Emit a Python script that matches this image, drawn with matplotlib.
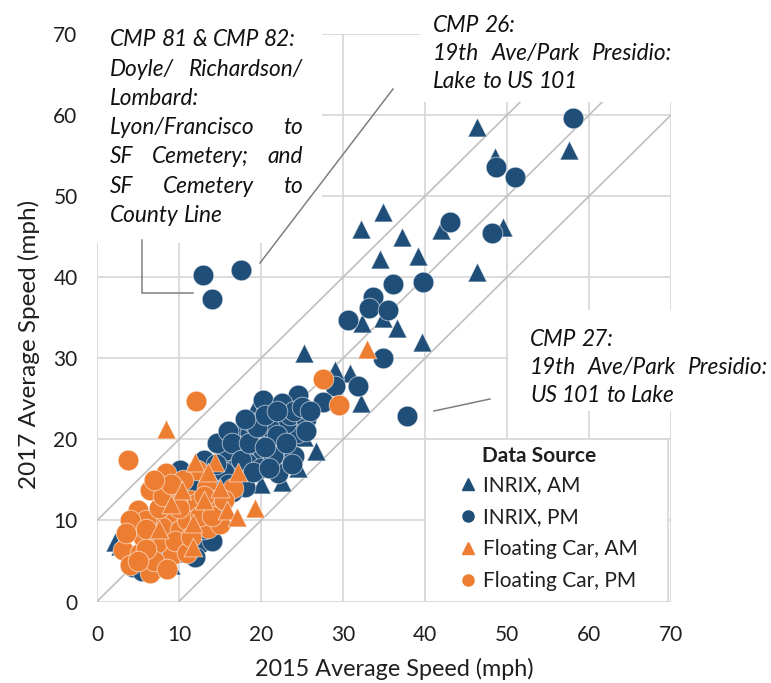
import matplotlib
matplotlib.use("Agg")
import matplotlib.pyplot as plt
from matplotlib.patches import Rectangle
from matplotlib.lines import Line2D

plt.rcParams['font.family'] = ['Lato', 'DejaVu Sans']

# 2015 vs 2017 average speed (mph)
inrix_am_2015 = [46.3, 48.5, 57.6, 49.5, 42.0, 32.2, 34.9, 37.2, 34.5, 39.1, 46.3, 32.3,
                 34.9, 36.6, 39.6, 25.3, 30.9, 32.2, 26.7, 25.2, 21.5, 22.6, 2.2, 4.0,
                 19.0, 17.5, 23.5, 20.5, 18.0, 16.0, 14.0, 12.5, 10.5, 8.5, 6.5, 9.0,
                 13.5, 20.0, 24.5, 11.0, 29.0, 2.8, 15.0, 22.0]
inrix_am_2017 = [58.5, 54.8, 55.7, 46.2, 45.8, 46.0, 48.0, 45.0, 42.2, 42.6, 40.6, 34.3,
                 35.0, 33.7, 32.0, 30.7, 28.2, 24.5, 18.6, 20.3, 24.0, 14.8, 7.4, 5.0,
                 23.5, 21.5, 21.5, 20.5, 18.5, 17.5, 15.5, 13.0, 11.5, 9.5, 7.5, 4.5,
                 10.5, 14.5, 16.5, 6.0, 28.5, 6.8, 12.5, 17.0]

inrix_pm_2015 = [12.9, 14.0, 17.6, 58.0, 48.7, 51.0, 48.2, 43.0, 39.7, 36.1, 33.7, 33.2,
                 35.5, 30.6, 34.9, 29.0, 31.8, 27.5, 37.8, 20.3, 24.5, 21.9, 24.4, 21.1,
                 19.5, 22.1, 15.2, 18.7, 20.2, 15.9, 18.3, 14.6, 18.0, 10.1, 12.6, 4.4,
                 23.0, 22.8, 17.0, 16.5, 19.0, 21.0, 23.5, 17.5, 20.0, 13.5, 12.0, 15.0,
                 9.5, 8.0, 6.0, 10.0, 14.0, 11.0, 25.5, 16.0, 13.0, 24.0, 22.5,
                 16.5, 17.5, 18.5, 19.5, 20.5, 21.5, 22.0, 23.0, 24.0, 19.0, 21.0, 15.5,
                 14.5, 18.0, 25.0, 26.0, 16.0, 14.5, 13.0, 10.5, 8.5, 5.5, 7.0, 12.0,
                 10.0, 11.5, 22.0, 20.5, 23.8, 25.5]
inrix_pm_2017 = [40.3, 37.3, 40.9, 59.6, 53.6, 52.4, 45.4, 46.8, 39.4, 39.2, 37.5, 36.2,
                 35.9, 34.7, 30.0, 26.6, 26.6, 24.6, 22.9, 24.9, 25.5, 22.4, 20.8, 19.9,
                 18.7, 15.8, 19.1, 20.8, 18.3, 18.7, 17.1, 19.5, 14.1, 16.2, 7.2, 4.3,
                 22.0, 18.5, 16.5, 13.5, 22.0, 21.5, 23.0, 19.0, 16.5, 14.5, 12.0, 11.0,
                 10.5, 8.0, 5.0, 6.5, 7.5, 9.5, 22.5, 21.0, 17.5, 18.0, 24.5,
                 19.5, 17.5, 19.5, 21.5, 23.0, 18.0, 20.5, 19.5, 23.5, 16.0, 16.5, 16.0,
                 17.0, 22.5, 24.0, 23.5, 14.5, 13.0, 9.0, 8.0, 5.5, 3.8, 4.0, 5.5,
                 13.5, 14.5, 23.5, 19.0, 17.0, 21.0]

fc_am_2015 = [32.9, 8.4, 14.4, 12.0, 17.2, 10.4, 15.9, 17.1, 19.3, 11.7, 11.7, 13.5,
              15.0, 9.0, 7.5, 13.0]
fc_am_2017 = [31.1, 21.3, 17.2, 17.2, 16.0, 13.7, 11.3, 10.4, 11.5, 6.7, 9.7, 16.0,
              14.0, 12.0, 9.0, 12.5]

fc_pm_2015 = [27.6, 29.5, 12.1, 3.8, 8.4, 6.5, 5.0, 4.9, 3.2, 5.2, 6.5, 9.1, 12.2, 11.3,
              8.9, 7.9, 10.1, 13.5, 13.4, 16.6, 7.3, 5.6, 11.0, 12.2, 14.5, 9.5, 6.0,
              15.0, 7.0, 10.5, 4.0,
              4.0, 3.5, 6.0, 7.5, 8.0, 10.0, 9.5, 12.5, 6.0, 8.5, 11.0, 5.0, 13.0, 14.0,
              15.5, 9.0, 7.0, 11.5]
fc_pm_2017 = [27.4, 24.2, 24.7, 17.4, 15.8, 13.7, 11.3, 8.8, 6.3, 6.0, 3.5, 5.7, 16.2,
              12.5, 10.9, 9.2, 8.8, 9.1, 14.1, 14.0, 7.2, 7.9, 10.0, 12.1, 12.5, 13.0,
              10.0, 9.5, 5.0, 15.0, 4.5,
              10.0, 8.5, 9.0, 11.5, 13.0, 11.5, 7.5, 10.5, 6.5, 4.0, 6.0, 5.0, 13.0, 10.5,
              12.5, 14.5, 15.0, 8.0]

series_labels = ['INRIX, AM', 'INRIX, PM', 'Floating Car, AM', 'Floating Car, PM']
ticks = [0, 10, 20, 30, 40, 50, 60, 70]
offsets = [-10, 0, 10]   # reference lines y = x + offset

BLUE = '#1F4E79'
ORANGE = '#ED7D31'
GRID = '#d9d9d9'
TXT = '#1f1f1f'

W, H = 771, 683
fig = plt.figure(figsize=(W / 100, H / 100), dpi=100)
ax = fig.add_axes([97 / W, 1 - 601.5 / H, 574 / W, 567.5 / H])


def fx(px):
    return px / W


def fy(py):
    return 1 - py / H


ax.set_xlim(0, 70)
ax.set_ylim(0, 70)
ax.set_xticks(ticks)
ax.set_yticks(ticks)
for s in ax.spines.values():
    s.set_visible(False)
ax.tick_params(length=0, labelsize=15, labelcolor=TXT)
ax.tick_params(axis='x', pad=17)
ax.tick_params(axis='y', pad=14)
ax.grid(True, color=GRID, lw=1.3, zorder=0)
ax.set_axisbelow(True)

for off in offsets:
    ax.plot([max(0, -off), min(70, 70 - off)], [max(0, off), min(70, 70 + off)],
            color='#bfbfbf', lw=1.2, zorder=1)

# white text boxes that hide part of the grid (as in the original)
for (x0, y0, x1, y1) in [(-0.5, 44.2, 27.4, 78), (39.4, 61.6, 90, 78), (50.1, 23.5, 90, 35.9)]:
    ax.add_patch(Rectangle((x0, y0), x1 - x0, y1 - y0, facecolor='white',
                           edgecolor='none', zorder=1.5, clip_on=False))
ax.add_patch(Rectangle((40, 0), 29.6, 20, facecolor='white', edgecolor=GRID,
                       lw=1.3, zorder=1.5))

edge = (1, 1, 1, 0.55)
ax.scatter(inrix_am_2015, inrix_am_2017, marker='^', s=185, color=BLUE,
           edgecolors=[edge], linewidths=0.7, zorder=3, label=series_labels[0])
ax.scatter(inrix_pm_2015, inrix_pm_2017, marker='o', s=220, color=BLUE,
           edgecolors=[edge], linewidths=0.7, zorder=4, label=series_labels[1])
ax.scatter(fc_pm_2015, fc_pm_2017, marker='o', s=220, color=ORANGE,
           edgecolors=[edge], linewidths=0.7, zorder=5, label=series_labels[3])
ax.scatter(fc_am_2015, fc_am_2017, marker='^', s=185, color=ORANGE,
           edgecolors=[edge], linewidths=0.7, zorder=6, label=series_labels[2])

ax.set_xlabel('2015 Average Speed (mph)', fontsize=16.8, color=TXT)
ax.set_ylabel('2017 Average Speed (mph)', fontsize=17.5, color=TXT)
ax.xaxis.set_label_coords((394 - 97) / 574, (601.5 - 658) / 567.5)
ax.yaxis.set_label_coords((40 - 97) / 574, (601.5 - 344) / 567.5)

handles = [Line2D([], [], ls='none', marker='^', color=BLUE, markersize=8),
           Line2D([], [], ls='none', marker='o', color=BLUE, markersize=8),
           Line2D([], [], ls='none', marker='^', color=ORANGE, markersize=8),
           Line2D([], [], ls='none', marker='o', color=ORANGE, markersize=8)]
leg = ax.legend(handles, series_labels, loc='upper left',
                bbox_to_anchor=((460 - 97) / 574, (601.5 - 475) / 567.5),
                frameon=False, fontsize=15, handlelength=0.8, handletextpad=0.3,
                labelspacing=0.58, borderpad=0, borderaxespad=0)
for t in leg.get_texts():
    t.set_color(TXT)
leg.set_zorder(7)
fig.text(fx(482), fy(456), 'Data Source', fontsize=15, fontweight='bold',
         color=TXT, va='center', ha='left')

# annotations with justified lines
renderer = fig.canvas.get_renderer()


def put_line(words, x0, x1, yc, justify):
    ts = [fig.text(0, fy(yc), w, fontsize=16.3, fontstyle='italic', color='#111111',
                   va='center', ha='left', zorder=8) for w in words]
    widths = [t.get_window_extent(renderer).width for t in ts]
    if justify and len(ts) > 1:
        gap = (x1 - x0 - sum(widths)) / (len(ts) - 1)
    else:
        gap = 5.0
    x = x0
    for t, wd in zip(ts, widths):
        t.set_x(fx(x))
        x += wd + gap


box1 = [('CMP 81 & CMP 82:', False), ('Doyle/ Richardson/', True), ('Lombard:', False),
        ('Lyon/Francisco to', True), ('SF Cemetery; and', True), ('SF Cemetery to', True),
        ('County Line', False)]
for i, (line, just) in enumerate(box1):
    put_line(line.split(' '), 110, 303, 40 + 29.2 * i, just)

box2 = [('CMP 26:', False), ('19th Ave/Park Presidio:', True), ('Lake to US 101', False)]
for i, (line, just) in enumerate(box2):
    put_line(line.split(' '), 433, 672, 25 + 28.5 * i, just)

box3 = [('CMP 27:', False), ('19th Ave/Park Presidio:', True), ('US 101 to Lake', False)]
for i, (line, just) in enumerate(box3):
    put_line(line.split(' '), 530, 768, 339 + 28.5 * i, just)

# leader lines
lead = dict(color='#7f7f7f', lw=1.1, transform=fig.transFigure, zorder=8)
fig.add_artist(Line2D([fx(142), fx(142), fx(193)], [fy(240), fy(293), fy(293)], **lead))
fig.add_artist(Line2D([fx(260), fx(393)], [fy(263), fy(89)], **lead))
fig.add_artist(Line2D([fx(434), fx(490)], [fy(411), fy(399)], **lead))

fig.savefig('out.png', dpi=100)
